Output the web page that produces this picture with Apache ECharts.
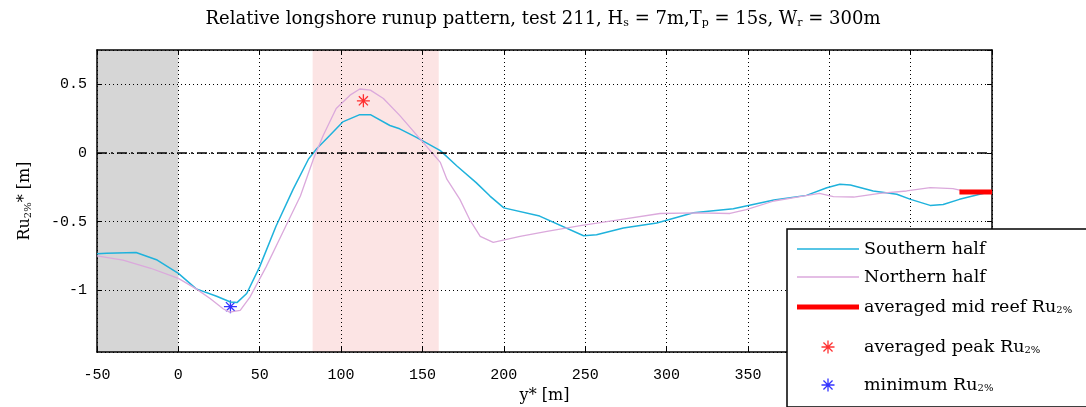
<!DOCTYPE html>
<html>
<head>
<meta charset="utf-8">
<script src="https://cdn.jsdelivr.net/npm/echarts@6/dist/echarts.min.js"></script>
<style>
  html, body { margin: 0; padding: 0; background: #fff; }
  #chart { width: 1086px; height: 407px; }
</style>
</head>
<body>
<div id="chart"></div>
<script>
// longshore position y* [m] and relative runup Ru2%* [m]
var southX = [-50, -44, -26, -13, 0, 11, 23.5, 32, 36, 42, 50, 60, 70.5, 80, 85, 93, 101, 111.5, 118, 130, 136, 146, 161, 171, 183, 191.5, 200, 222, 249, 257, 273.5, 294, 316.5, 341, 366, 386, 398.5, 406.5, 413, 427, 441.5, 450, 462, 470, 480, 495, 500];
var southY = [-0.735, -0.73, -0.725, -0.78, -0.877, -0.99, -1.044, -1.086, -1.09, -1.024, -0.828, -0.534, -0.265, -0.044, 0.03, 0.127, 0.226, 0.279, 0.279, 0.2, 0.176, 0.115, 0.017, -0.093, -0.216, -0.314, -0.4, -0.46, -0.603, -0.596, -0.547, -0.51, -0.436, -0.407, -0.343, -0.309, -0.253, -0.228, -0.233, -0.277, -0.301, -0.338, -0.382, -0.375, -0.338, -0.294, -0.28];
var northX = [-50, -34, -17, 0, 11, 19.5, 27.5, 31.5, 38, 44, 54, 64.5, 75, 83, 89, 97, 105.5, 111.5, 118, 126, 136, 148.5, 161, 165, 173, 179, 185.5, 193.5, 210, 226.5, 247, 271.5, 296, 318.5, 339, 349, 366, 382, 394, 402.5, 415, 431, 447.5, 462, 476, 485, 500];
var northY = [-0.75, -0.78, -0.84, -0.914, -0.99, -1.06, -1.135, -1.16, -1.147, -1.05, -0.828, -0.571, -0.314, -0.044, 0.127, 0.324, 0.421, 0.466, 0.458, 0.397, 0.274, 0.103, -0.069, -0.191, -0.338, -0.485, -0.608, -0.652, -0.608, -0.571, -0.529, -0.485, -0.441, -0.436, -0.441, -0.412, -0.35, -0.318, -0.294, -0.318, -0.321, -0.294, -0.277, -0.253, -0.26, -0.284, -0.29];
var midReefX = [480, 500];
var midReefY = [-0.285, -0.285];
var peakPoint = [113.7, 0.38];
var minPoint = [32, -1.12];
var beachZone = [-50, 0];
var reefZone = [82.5, 160];

function pairs(xs, ys) {
  return xs.map(function (x, i) { return [x, ys[i]]; });
}

var serif = 'DejaVu Serif';
var mono = 'Liberation Mono';
var sub = { fontFamily: serif, fontSize: 10, padding: [7, 0, 0, 0] };
// asterisk marker
var star = 'path://M-1,-10L1,-10L1,10L-1,10Z M-10,-1L10,-1L10,1L-10,1Z M-6.3,-7.7L7.7,6.3L6.3,7.7L-7.7,-6.3Z M-7.7,6.3L6.3,-7.7L7.7,-6.3L-6.3,7.7Z';
var thinBar = 'path://M0,0L62,0L62,1.6L0,1.6Z';
var thickBar = 'path://M0,0L62,0L62,5L0,5Z';

var frame = { show: true, onZero: false, lineStyle: { color: '#000', width: 1.5 } };
var ticks = { show: true, inside: true, length: 5, lineStyle: { color: '#000', width: 1 } };
var dots = { show: true, lineStyle: { color: '#000', type: [1, 3], width: 1 } };

function legendItem(name, icon, lh) {
  return { name: name, icon: icon, textStyle: { lineHeight: lh } };
}

var chart = echarts.init(document.getElementById('chart'));
chart.setOption({
  animation: false,
  backgroundColor: '#fff',
  title: {
    text: 'Relative longshore runup pattern, test 211, H{s|s} = 7m,T{s|p} = 15s, W{s|r} = 300m',
    left: 'center',
    top: 5,
    textStyle: {
      fontFamily: serif, fontSize: 18, fontWeight: 'normal', color: '#000',
      rich: { s: { fontFamily: serif, fontSize: 11, padding: [8, 0, 0, 0] } }
    }
  },
  grid: { left: 97, right: 94, top: 50, bottom: 55, outerBoundsMode: 'none', containLabel: false },
  legend: {
    orient: 'vertical',
    left: 787,
    top: 229,
    padding: [10, 40, 12, 10],
    itemGap: 8,
    itemWidth: 62,
    itemHeight: 13,
    backgroundColor: '#fff',
    borderColor: '#000',
    borderWidth: 1.5,
    borderRadius: 0,
    data: [
      legendItem('Southern half', thinBar, 20),
      legendItem('Northern half', thinBar, 20),
      legendItem('averaged mid reef Ru2%', thickBar, 24),
      legendItem('averaged peak Ru2%', star, 40),
      legendItem('minimum Ru2%', star, 20)
    ],
    formatter: function (name) { return name.replace('Ru2%', 'Ru{s|2%}'); },
    textStyle: { fontFamily: serif, fontSize: 17.5, color: '#000', rich: { s: sub } }
  },
  xAxis: [
    {
      type: 'value', min: -50, max: 500, interval: 50, position: 'bottom', z: 1.2,
      axisLine: frame, axisTick: ticks, splitLine: dots,
      axisLabel: { margin: 16, fontFamily: mono, fontSize: 15, color: '#000' },
      name: 'y* [m]', nameLocation: 'middle', nameGap: 36,
      nameTextStyle: { fontFamily: serif, fontSize: 16, color: '#000' }
    },
    {
      type: 'value', min: -50, max: 500, interval: 50, position: 'top', z: 1.2,
      axisLine: frame, axisTick: ticks, splitLine: { show: false }, axisLabel: { show: false }
    }
  ],
  yAxis: [
    {
      type: 'value', min: -1.45, max: 0.75, splitNumber: 4, position: 'left', z: 1.2,
      axisLine: frame, axisTick: ticks, splitLine: dots,
      axisLabel: { margin: 10, fontFamily: mono, fontSize: 15, color: '#000', showMinLabel: false, showMaxLabel: false },
      name: 'Ru{s|2%}* [m]', nameLocation: 'middle', nameGap: 64, nameRotate: 90,
      nameTextStyle: { fontFamily: serif, fontSize: 16, color: '#000', rich: { s: sub } }
    },
    {
      type: 'value', min: -1.45, max: 0.75, splitNumber: 4, position: 'right', z: 1.2,
      axisLine: frame, axisTick: ticks, splitLine: { show: false }, axisLabel: { show: false }
    }
  ],
  series: [
    {
      name: 'Southern half', type: 'line', data: pairs(southX, southY),
      symbol: 'none', color: '#1fb2dc', lineStyle: { color: '#1fb2dc', width: 1.5 },
      markArea: {
        silent: true, z: 0.5,
        data: [
          [{ xAxis: beachZone[0], itemStyle: { color: '#d6d6d6' } }, { xAxis: beachZone[1] }],
          [{ xAxis: reefZone[0], itemStyle: { color: '#fce4e4' } }, { xAxis: reefZone[1] }]
        ]
      },
      markLine: {
        silent: true, symbol: 'none', label: { show: false },
        lineStyle: { color: '#000', type: [10, 4, 2, 4], width: 1.5 },
        data: [{ yAxis: 0 }]
      }
    },
    {
      name: 'Northern half', type: 'line', data: pairs(northX, northY),
      symbol: 'none', color: '#dba9dc', lineStyle: { color: '#dba9dc', width: 1.3 }
    },
    {
      name: 'averaged mid reef Ru2%', type: 'line', data: pairs(midReefX, midReefY),
      symbol: 'none', color: '#ff0000', lineStyle: { color: '#ff0000', width: 5 }
    },
    {
      name: 'averaged peak Ru2%', type: 'scatter', data: [peakPoint],
      symbol: star, symbolSize: 13, itemStyle: { color: '#ff0000' }
    },
    {
      name: 'minimum Ru2%', type: 'scatter', data: [minPoint],
      symbol: star, symbolSize: 13, itemStyle: { color: '#0000ff' }
    }
  ]
});
</script>
</body>
</html>
